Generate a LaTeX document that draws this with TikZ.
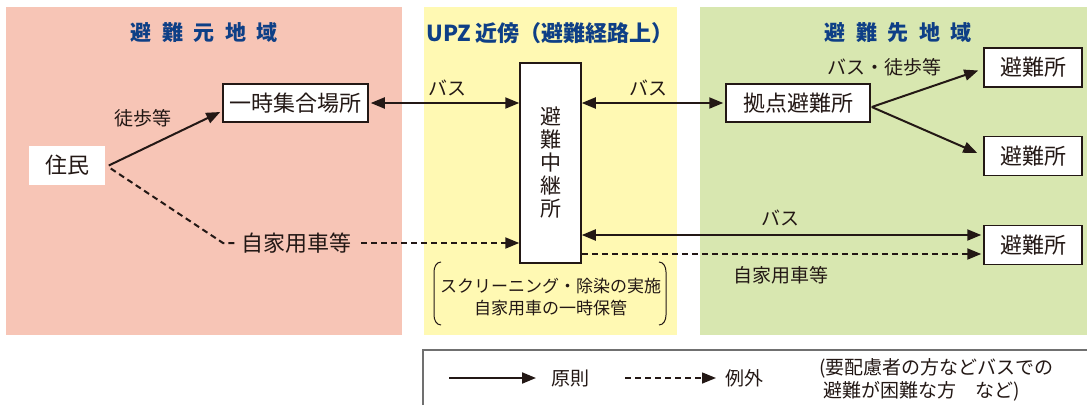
\documentclass[tikz,border=0pt]{standalone}
\usepackage{fontspec}
\setmainfont{Noto Sans CJK JP}
\usetikzlibrary{arrows.meta}
\definecolor{pinkbg}{HTML}{F7C5B6}
\definecolor{yellowbg}{HTML}{FFF9B3}
\definecolor{greenbg}{HTML}{D8E7B0}
\definecolor{ink}{HTML}{231815}
\definecolor{titleblue}{HTML}{0E3F86}
\definecolor{legendgray}{HTML}{707070}
\tikzset{
  boxnode/.style={draw=ink, line width=1.5pt, fill=white, inner sep=0pt, text=ink,
    font=\fontsize{22}{23}\selectfont},
  plainlabel/.style={text=ink, inner sep=1pt, font=\fontsize{19}{21}\selectfont},
  titletext/.style={text=titleblue, inner sep=0pt, font=\fontsize{21}{23}\selectfont\bfseries},
  tipA/.tip={Triangle[length=14pt,width=11pt]},
  solidarrow/.style={draw=ink, line width=2pt, -tipA},
  bothsolid/.style={draw=ink, line width=2pt, tipA-tipA},
  dasharrow/.style={draw=ink, line width=2pt, dash pattern=on 6pt off 4pt, -tipA},
  dashplain/.style={draw=ink, line width=2pt, dash pattern=on 6pt off 4pt},
}
\begin{document}
\begin{tikzpicture}[x=1pt,y=-1pt]
\useasboundingbox (0,0) rectangle (1087,405);
% regions
\fill[pinkbg] (6,7) rectangle (402,335);
\fill[yellowbg] (424,7) rectangle (677,335);
\fill[greenbg] (700,7) rectangle (1087,335);
% titles
\node[titletext] (t1) at (204,33) {避\kern10.5pt難\kern10.5pt元\kern10.5pt地\kern10.5pt域};
\node[titletext, font=\fontsize{22}{23}\selectfont\bfseries] (t2) at (550,33) {UPZ 近傍（避難経路上）};
\node[titletext] (t3) at (898,33) {避\kern10.5pt難\kern10.5pt先\kern10.5pt地\kern10.5pt域};
% nodes
\node[boxnode, draw=none, minimum width=76pt, minimum height=39pt] (jumin) at (67,165.5) {住民};
\node[boxnode, minimum width=145pt, minimum height=38pt] (ichiji) at (295.5,103) {一時集合場所};
\node[boxnode, minimum width=61pt, minimum height=200pt, align=center, font=\fontsize{21}{23}\selectfont] (relay) at (550.5,163) {避\\難\\中\\継\\所};
\node[boxnode, minimum width=144pt, minimum height=38pt] (kyoten) at (798,103) {拠点避難所};
\node[boxnode, minimum width=98pt, minimum height=39pt] (h1) at (1033,67.5) {避難所};
\node[boxnode, minimum width=98pt, minimum height=39pt] (h2) at (1033,156) {避難所};
\node[boxnode, minimum width=98pt, minimum height=39pt] (h3) at (1033,245) {避難所};
\node[text=ink, inner sep=0pt, font=\fontsize{22}{23}\selectfont] (car) at (296,243) {自家用車等};
% helper coordinates
\coordinate (bend) at (223,243);
\coordinate (h3up) at ([yshift=10pt]h3.west);
\coordinate (h3dn) at ([yshift=-9pt]h3.west);
% connectors
\draw[solidarrow] ([xshift=3pt]jumin.east) -- ([xshift=-2pt,yshift=-9pt]ichiji.west);
\draw[dashplain] ([xshift=5pt,yshift=-3pt]jumin.east) -- (bend) -- ([xshift=-5pt]car.west);
\draw[dasharrow] ([xshift=10pt]car.east) -- (relay.west |- car.east);
\draw[bothsolid] ([xshift=2pt]ichiji.east) -- (relay.west |- ichiji.east);
\draw[bothsolid] (relay.east |- kyoten.west) -- ([xshift=-2pt]kyoten.west);
\draw[solidarrow] ([xshift=1pt,yshift=-4pt]kyoten.east) -- ([xshift=-5pt,yshift=-3pt]h1.west);
\draw[solidarrow] ([xshift=1pt,yshift=-4pt]kyoten.east) -- ([xshift=-6pt,yshift=3pt]h2.west);
\draw[bothsolid] (relay.east |- h3up) -- ([xshift=-2pt]h3up);
\draw[dasharrow] (relay.east |- h3dn) -- ([xshift=-2pt]h3dn);
% labels
\node[plainlabel] (lb1) at (143,118) {徒歩等};
\node[plainlabel] (lb2) at (447,88) {バス};
\node[plainlabel] (lb3) at (648,88) {バス};
\node[plainlabel] (lb4) at (884,67) {バス・徒歩等};
\node[plainlabel] (lb5) at (780,218) {バス};
\node[plainlabel] (lb6) at (781,275) {自家用車等};
\node[plainlabel, align=center, font=\fontsize{17}{22}\selectfont] (note) at (550.5,297) {スクリーニング・除染の実施\\自家用車の一時保管};
\draw[ink, line width=1pt] (441,262) to[out=180,in=90] (434,272) -- (434,315) to[out=-90,in=180] (441,325);
\draw[ink, line width=1pt] (659,262) to[out=0,in=90] (666,272) -- (666,315) to[out=-90,in=0] (659,325);
% legend
\draw[legendgray, line width=1.5pt] (423,405) -- (423,350) -- (1087,350);
\coordinate (la1) at (449,378);
\coordinate (la2) at (536,378);
\draw[solidarrow] (la1) -- (la2);
\node[plainlabel, font=\fontsize{19}{21}\selectfont, anchor=west] (gen) at (550,378) {原則};
\coordinate (lb1a) at (625,378);
\coordinate (lb2a) at (716,378);
\draw[dasharrow, line width=1.5pt] (lb1a) -- (lb2a);
\node[plainlabel, font=\fontsize{19}{21}\selectfont, anchor=west] (rei) at (724,378) {例外};
\node[plainlabel, font=\fontsize{19}{23}\selectfont, align=left, anchor=west] (paren) at (818,380) {(要配慮者の方などバスでの\\\hspace*{4pt}避難が困難な方　など)};
\end{tikzpicture}
\end{document}
